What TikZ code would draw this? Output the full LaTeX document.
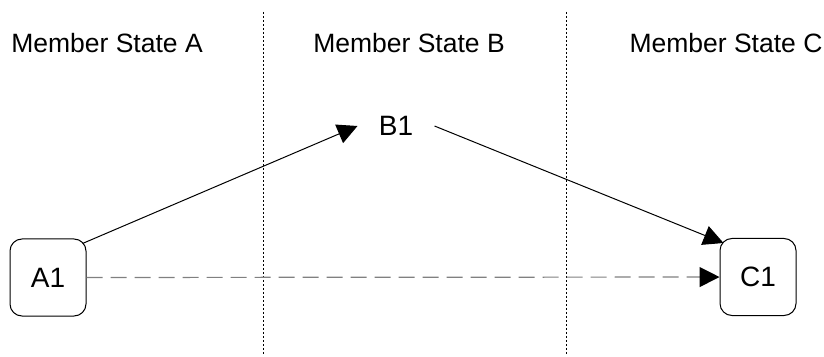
\documentclass[tikz,border=0pt]{standalone}
\usepackage{fontspec}
\setmainfont{Liberation Sans}
\usetikzlibrary{arrows.meta}

\begin{document}
\begin{tikzpicture}[x=1pt,y=1pt,
main/.style = {draw, rounded corners=12pt, minimum width=76pt, minimum height=77pt, line width=1pt, font=\fontsize{28}{30}\selectfont},
state/.style = {anchor=base, font=\fontsize{26.5}{30}\selectfont},
border/.style = {line width=1pt, dash pattern=on 2pt off 2pt},
arr/.style = {line width=1pt, -{Triangle[length=20pt,width=20pt]}},
link/.style = {line width=1.2pt, gray, dash pattern=on 16pt off 8pt, -{Triangle[length=20pt,width=20pt,black]}}]
\useasboundingbox (0,0) rectangle (824,356);
\node[state] (sa) at (107,303) {Member State A};
\node[state] (sb) at (409,303) {Member State B};
\node[state] (sc) at (726,303) {Member State C};
\coordinate (t1) at (263.5,344); \coordinate (b1) at (263.5,2);
\coordinate (t2) at (566,344); \coordinate (b2) at (566,2);
\draw[border] (t1) -- (b1);
\draw[border] (t2) -- (b2);
\node[main] (A1) at (48,78.5) {A1};
\node[main] (C1) at (758,79) {C1};
\node[main, draw=none] (B1) at (396,230) {B1};
\draw[arr] ([shift={(-4pt,-5pt)}]A1.north east) -- (B1.west);
\draw[arr] (B1.east) -- ([shift={(4pt,-5pt)}]C1.north west);
\draw[link] (A1) -- (C1);
\end{tikzpicture}
\end{document}
